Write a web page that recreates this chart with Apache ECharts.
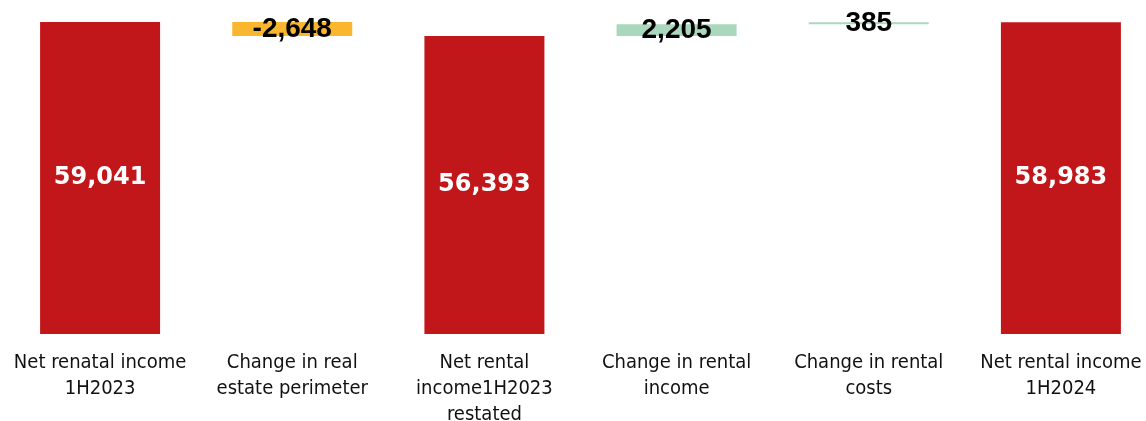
<!DOCTYPE html>
<html>
<head>
<meta charset="utf-8">
<script src="https://cdn.jsdelivr.net/npm/echarts@6/dist/echarts.min.js"></script>
<style>
  html, body { margin: 0; padding: 0; background: #fff; }
  #chart { width: 1146px; height: 421px; }
</style>
</head>
<body>
<div id="chart"></div>
<script>
// Net rental income bridge, 1H2023 -> 1H2024
const categories = [
  'Net renatal income\n1H2023',
  'Change in real\nestate perimeter',
  'Net rental\nincome1H2023\nrestated',
  'Change in rental\nincome',
  'Change in rental\ncosts',
  'Net rental income\n1H2024'
];
// 'total' bars start at zero, 'delta' bars float on the running total
const kinds = ['total', 'delta', 'total', 'delta', 'delta', 'total'];
const values = [59041, -2648, 56393, 2205, 385, 58983];

const RED = '#C1171B';
const deltaColors = { neg: '#FBB62F', pos: '#A9D8BC' };

// Build invisible offsets and visible heights for the floating bars
const offsets = [];
const heights = [];
let running = 0;
values.forEach((v, i) => {
  if (kinds[i] === 'total') {
    offsets.push(0);
    heights.push(v);
    running = v;
  } else if (v < 0) {
    running += v;
    offsets.push(running);
    heights.push(-v);
  } else {
    offsets.push(running);
    heights.push(v);
    running += v;
  }
});

const fmt = v => (v < 0 ? '-' : '') + Math.abs(v).toLocaleString('en-US');

const visible = heights.map((h, i) => {
  const isTotal = kinds[i] === 'total';
  return {
    value: h,
    itemStyle: {
      color: isTotal ? RED : (values[i] < 0 ? deltaColors.neg : deltaColors.pos)
    },
    label: isTotal
      ? { color: '#fff', fontFamily: 'DejaVu Sans', fontWeight: 'bold', fontSize: 24 }
      : { color: '#000', fontFamily: 'Liberation Sans', fontWeight: 'bold', fontSize: 28 }
  };
});

const chart = echarts.init(document.getElementById('chart'), null, { renderer: 'canvas' });
chart.setOption({
  animation: false,
  grid: { left: 4, width: 1153, top: 22, bottom: 87, outerBoundsMode: 'none', containLabel: false },
  xAxis: {
    type: 'category',
    data: categories,
    axisLine: { show: false },
    axisTick: { show: false },
    axisLabel: {
      interval: 0,
      margin: 16,
      color: '#111',
      fontFamily: 'DejaVu Sans Condensed, Liberation Sans, sans-serif',
      fontSize: 20,
      lineHeight: 26
    }
  },
  yAxis: {
    type: 'value',
    min: 0,
    max: 59041,
    show: false,
    splitLine: { show: false }
  },
  series: [
    {
      type: 'bar',
      stack: 'bridge',
      barWidth: 120,
      silent: true,
      itemStyle: { color: 'transparent' },
      data: offsets
    },
    {
      type: 'bar',
      stack: 'bridge',
      barWidth: 120,
      label: {
        show: true,
        position: 'inside',
        formatter: p => fmt(values[p.dataIndex])
      },
      data: visible
    }
  ]
});
</script>
</body>
</html>
